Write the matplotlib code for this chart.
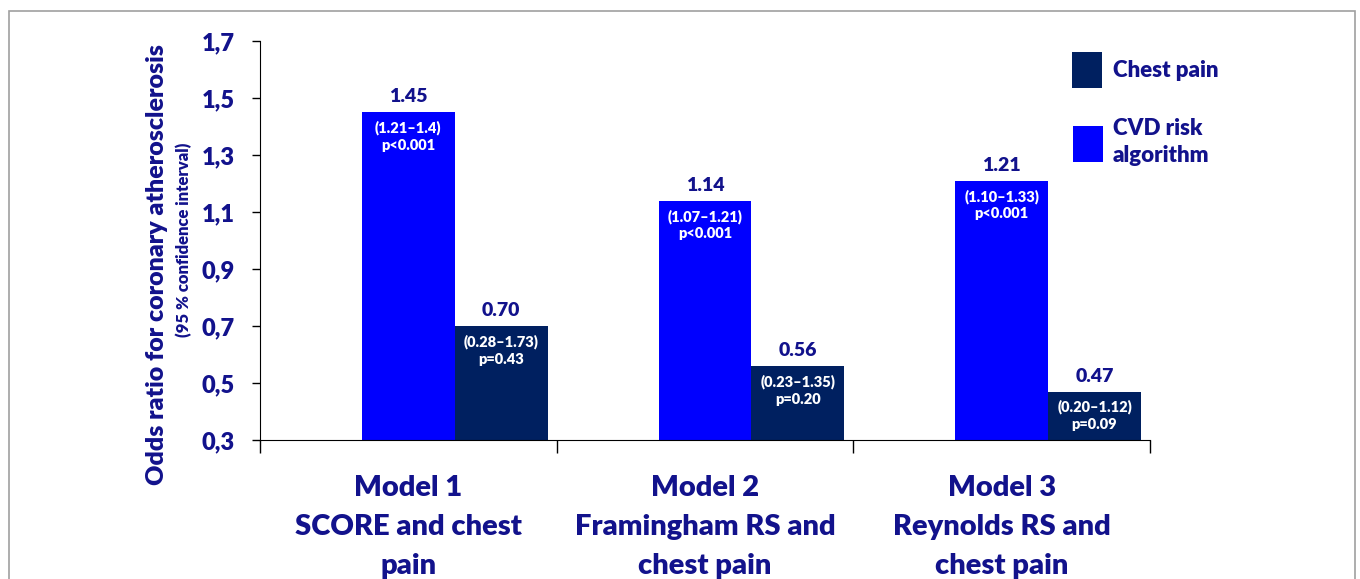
import matplotlib
matplotlib.use("Agg")
import matplotlib.pyplot as plt
from matplotlib.patches import Rectangle
import numpy as np

plt.rcParams["font.family"] = ["Lato", "DejaVu Sans"]
plt.rcParams["font.weight"] = "heavy"
WT = "heavy"

# data
models = ["Model 1\nSCORE and chest\npain",
          "Model 2\nFramingham RS and\nchest pain",
          "Model 3\nReynolds RS and\nchest pain"]
cvd_or = [1.45, 1.14, 1.21]
cvd_ci = ["(1.21\u20131.4)", "(1.07\u20131.21)", "(1.10\u20131.33)"]
cvd_p = ["p<0.001", "p<0.001", "p<0.001"]
pain_or = [0.70, 0.56, 0.47]
pain_ci = ["(0.28\u20131.73)", "(0.23\u20131.35)", "(0.20\u20131.12)"]
pain_p = ["p=0.43", "p=0.20", "p=0.09"]
yticks = [0.3, 0.5, 0.7, 0.9, 1.1, 1.3, 1.5, 1.7]
ytick_labels = ["0,3", "0,5", "0,7", "0,9", "1,1", "1,3", "1,5", "1,7"]

NAVY = "#12128c"
BLUE = "#0000ff"
DARK = "#002060"
BASE = 0.3

fig = plt.figure(figsize=(13.6, 5.79), dpi=100)
fig.patches.append(Rectangle((9 / 1360, -0.05), 1346 / 1360, 1.05 - 11 / 579,
                             transform=fig.transFigure, fill=False,
                             edgecolor="#a0a0a0", linewidth=1.2))
ax = fig.add_axes([260 / 1360, 139 / 579, 890 / 1360, 399 / 579])

x = np.arange(len(models))
w = 0.313
cvd_h = [v - BASE for v in cvd_or]
pain_h = [v - BASE for v in pain_or]
# blue bar sits on the category centre, dark bar to its right
ax.bar(x, cvd_h, w, bottom=BASE, color=BLUE)
ax.bar(x + w, pain_h, w, bottom=BASE, color=DARK)


def label_bar(xc, val, ci, p):
    ax.annotate(f"{val:.2f}", (xc, val), xytext=(0, 5), textcoords="offset points",
                ha="center", va="bottom", color=NAVY, fontsize=14, fontweight=WT)
    ax.annotate(f"{ci}\n{p}", (xc, val), xytext=(0, -6), textcoords="offset points",
                ha="center", va="top", color="white", fontsize=10.5,
                fontweight=WT, linespacing=1.35)


for i in range(len(models)):
    label_bar(x[i], cvd_or[i], cvd_ci[i], cvd_p[i])
    label_bar(x[i] + w, pain_or[i], pain_ci[i], pain_p[i])

ax.set_xlim(-0.5, 2.5)
ax.set_ylim(BASE, 1.7)
ax.set_yticks(yticks)
ax.set_yticklabels(ytick_labels, color=NAVY, fontsize=17, fontweight=WT)
ax.tick_params(axis="y", direction="out", length=6, width=1, pad=12)

ax.set_xticks([-0.5, 0.5, 1.5, 2.5])
ax.set_xticklabels([])
ax.tick_params(axis="x", direction="out", length=9, width=1)
for i, m in enumerate(models):
    ax.text(x[i], -0.088, m, transform=ax.get_xaxis_transform(), ha="center",
            va="top", color=NAVY, fontsize=21, fontweight=WT, linespacing=1.62)

ax.spines["top"].set_visible(False)
ax.spines["right"].set_visible(False)

fig.text(157 / 1360, 1 - 265 / 579, "Odds ratio for coronary atherosclerosis",
         rotation=90, ha="center", va="center", color=NAVY, fontsize=18,
         fontweight=WT)
fig.text(184 / 1360, 1 - 240 / 579, "(95 % confidence interval)",
         rotation=90, ha="center", va="center", color=NAVY, fontsize=12,
         fontweight=WT)

# legend drawn by hand to match the layout
fig.patches.append(Rectangle((1072 / 1360, 1 - 88 / 579), 30 / 1360, 36 / 579,
                             transform=fig.transFigure, facecolor=DARK))
fig.patches.append(Rectangle((1073 / 1360, 1 - 162 / 579), 30 / 1360, 36 / 579,
                             transform=fig.transFigure, facecolor=BLUE))
fig.text(1113 / 1360, 1 - 70 / 579, "Chest pain", ha="left", va="center",
         color=NAVY, fontsize=16, fontweight=WT)
fig.text(1113 / 1360, 1 - 142 / 579, "CVD risk\nalgorithm", ha="left", va="center",
         color=NAVY, fontsize=16, fontweight=WT, linespacing=1.3)

fig.savefig("out.png", dpi=100)
